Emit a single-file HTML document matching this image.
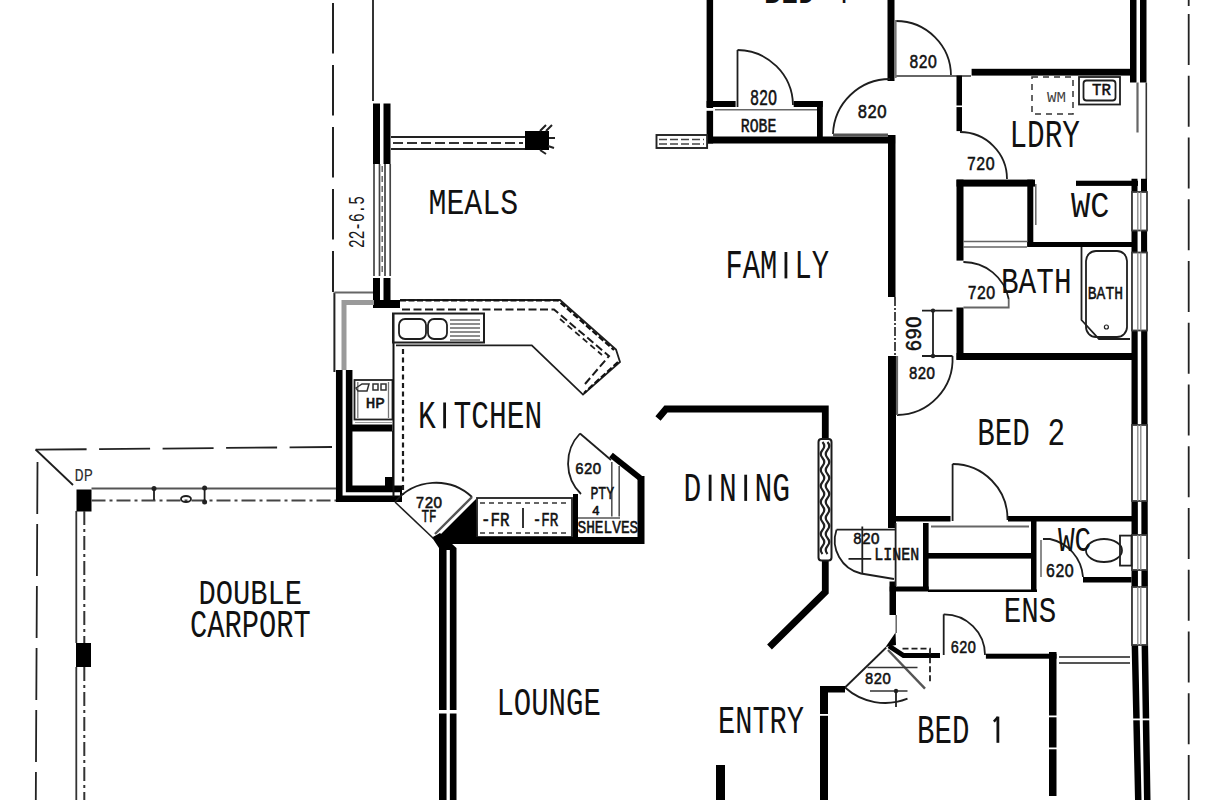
<!DOCTYPE html>
<html><head><meta charset="utf-8"><style>
html,body{margin:0;padding:0;background:#fff;width:1219px;height:800px;overflow:hidden;}
svg{display:block;position:absolute;left:0;top:0;}
text{font-family:"Liberation Mono",monospace;white-space:pre;}
</style></head><body>
<svg width="1219" height="800" viewBox="0 0 1219 800">
<rect x="0" y="0" width="1219" height="800" fill="#fff"/>

<!-- ============ LEFT / MEALS ============ -->
<!-- dashed boundary x=332.5 -->
<path stroke="#222" fill="none" d="M333,3 V292" stroke-dasharray="50.5 11.5" stroke-width="2"/>
<!-- thin line from top to meals wall -->
<path stroke="#1e1e1e" stroke-width="1.8" fill="none" d="M373,0 V101"/>
<!-- meals wall top black -->
<rect fill="#000" x="373" y="103.5" width="7" height="60.5"/>
<rect fill="#000" x="383.5" y="103.5" width="7" height="60.5"/>
<!-- window lines -->
<path d="M374,164 V276 M379.5,164 V276 M385,164 V276 M390.2,164 V276" stroke="#444" stroke-width="1.7" fill="none"/><path d="M382.2,166 V274" stroke="#666" stroke-width="1.5" stroke-dasharray="6 4" fill="none"/>
<!-- meals wall bottom black + corner -->
<rect fill="#000" x="373" y="278" width="7" height="30"/>
<rect fill="#000" x="383.5" y="278" width="7" height="30"/>
<rect fill="#000" x="373" y="300" width="27" height="8"/>
<!-- meals window stub -->
<path d="M391,137 H525 M391,149 H525" stroke="#222" stroke-width="1.8" fill="none"/>
<path d="M393,143 H523" stroke="#333" stroke-width="2.2" stroke-dasharray="10 4" fill="none"/>
<rect fill="#000" x="525" y="131" width="24" height="19"/><path d="M540,131 l6,-6 M546,131 l6,-6 M540,150 l6,4 M548,146 l6,2 M549,138 l6,0" stroke="#222" stroke-width="2"/>
<!-- dimension 22-6.5 -->

<!-- kitchen left thin box -->
<path d="M334.4,292.5 V372" stroke="#222" stroke-width="2" fill="none"/>
<path d="M334.4,292.5 H373" stroke="#666" stroke-width="2" fill="none"/>
<path d="M344,372 V302.5 H374" stroke="#9a9a9a" stroke-width="5" fill="none"/>

<!-- kitchen outer wall (double) -->
<path d="M344.2,370 V493.8 H402" stroke="#000" stroke-width="16.5" fill="none" stroke-linejoin="miter"/>
<path d="M344.2,370 V493.8 H400" stroke="#fff" stroke-width="3.3" fill="none"/>
<path d="M439,548 L432,537.5 L440,533 L456.5,548 V800 H439 Z" fill="#000"/>
<path d="M448.2,550 V800" stroke="#fff" stroke-width="3.3"/>
<rect x="436" y="710" width="24" height="3.5" fill="#fff"/>
<path stroke="#1e1e1e" fill="none" d="M395,502 L433.5,538.5" stroke-width="1.6"/>

<!-- HP -->
<rect fill="#000" x="351.5" y="424.5" width="41" height="7"/>
<rect x="354.5" y="380" width="38" height="39.5" fill="none" stroke="#222" stroke-width="1.8"/>
<path d="M357.8,382 V418 M388.5,382 V418" stroke="#777" stroke-width="1.3" fill="none"/>
<path d="M356,388 L362,384 H369 L367,391 H358 Z M373,384 h5 v6 h-5 z M381,384 h5 v6 h-5 z" stroke="#333" stroke-width="1.5" fill="none"/>
<path d="M355,422.5 H392" stroke="#999" stroke-width="1.2"/>
<path stroke="#1e1e1e" stroke-width="1.8" fill="none" d="M393,431 V485"/>
<rect fill="#000" x="385" y="477" width="8" height="9"/>

<!-- kitchen counter -->
<path stroke="#1e1e1e" stroke-width="1.8" fill="none" d="M400,300 H560 L616,349.5 L620,362 L583,394.6 L531.8,345.4 H396"/>
<path d="M400,300.5 H558 L614,350 M618,362 L584,393" stroke="#111" stroke-width="2.2" stroke-dasharray="6 2.5" fill="none"/>
<path d="M402,309.5 H554 L609,356 L585,384" stroke="#1a1a1a" stroke-width="2" stroke-dasharray="8 3.5" fill="none"/>
<path d="M560,319 L602,355" stroke="#222" stroke-width="1.8" stroke-dasharray="6 4" fill="none"/>
<path d="M393.5,313 V497" stroke="#111" stroke-width="2" fill="none"/>
<path d="M403,349 V495" stroke="#1a1a1a" stroke-width="2.2" stroke-dasharray="5 3.5" fill="none"/>
<!-- sink -->
<rect stroke="#1e1e1e" fill="none" x="393" y="313.5" width="91" height="29" stroke-width="2"/>
<rect stroke="#1e1e1e" stroke-width="1.8" fill="none" x="399" y="319" width="27" height="20" rx="6"/>
<rect stroke="#1e1e1e" stroke-width="1.8" fill="none" x="428" y="319" width="19" height="20" rx="6"/>
<path stroke="#1e1e1e" fill="none" d="M450,320 H480 M450,324 H480 M450,328 H480 M450,332 H480 M450,336 H480 M450,340 H480" stroke-width="1.1"/>


<!-- 720 TF door -->
<path stroke="#1e1e1e" stroke-width="1.8" fill="none" d="M395,502 A53,53 0 0,1 472,497"/>
<path fill="none" d="M435,534 L472,497" stroke-width="2.4" stroke="#555"/>
<polygon fill="#000" points="439,536 476,499 478,544 448,544"/>

<!-- FR counter -->
<rect stroke="#1e1e1e" stroke-width="1.8" fill="none" x="477" y="498" width="95" height="39"/>
<path stroke-width="1.5" fill="none" d="M480,503 H570 M480,533 H570" stroke-dasharray="5 4" stroke="#333"/>
<path stroke="#1e1e1e" stroke-width="1.8" fill="none" d="M523,508 V528"/>
<!-- kitchen bottom wall -->
<rect fill="#000" x="452" y="537" width="192" height="7"/>
<rect fill="#000" x="573" y="494" width="5" height="45"/>
<rect fill="#000" x="637.5" y="476" width="7" height="68"/>
<path d="M611,455 L640,478" stroke="#000" stroke-width="6"/>
<!-- pantry door -->
<path stroke="#1e1e1e" stroke-width="1.8" fill="none" d="M580,433.5 A43,43 0 0,0 581,494"/>
<path stroke="#1e1e1e" stroke-width="1.8" fill="none" d="M580,433.5 L611,460"/>
<path d="M611.8,462 V516.5 M619.2,466 V516.5 M578,518 H620" stroke="#555" stroke-width="1.6" fill="none"/>

<!-- ============ CARPORT ============ -->
<path stroke="#222" fill="none" d="M35.6,449.7 L332,447" stroke-dasharray="51 12.5" stroke-width="1.8"/>
<path stroke="#1e1e1e" stroke-width="1.8" fill="none" d="M35.6,449.5 L73,485"/>
<path stroke="#222" fill="none" d="M37.5,462 L35.8,800" stroke-dasharray="52 10" stroke-width="1.8"/>
<rect fill="#000" x="76.5" y="489.5" width="15" height="22"/>
<rect fill="#000" x="76" y="643" width="15" height="24"/>
<path d="M91.5,488.5 H336" stroke="#555" stroke-width="1.8"/>
<path d="M91.5,500.5 H336" stroke="#444" stroke-width="1.8" stroke-dasharray="14 4 3 4"/>
<path d="M76.3,511 V643 M76.3,667 V800" stroke="#333" stroke-width="1.8"/>
<path d="M84.3,511 V643 M84.3,667 V800" stroke="#333" stroke-width="2" stroke-dasharray="14 4 3 4"/>
<circle cx="154" cy="488.5" r="2.5" fill="#222"/>
<path stroke="#1e1e1e" stroke-width="1.8" fill="none" d="M154,488 V500"/>
<ellipse stroke="#1e1e1e" stroke-width="1.8" fill="none" cx="186" cy="499" rx="5" ry="3"/>
<circle cx="204.6" cy="488" r="2.5" fill="#222"/>
<circle cx="204.6" cy="502" r="2.5" fill="#222"/>
<path stroke="#1e1e1e" stroke-width="1.8" fill="none" d="M204.6,488 V502"/>

<rect fill="#000" x="716" y="765" width="9" height="35"/>

<!-- ============ DINING ============ -->
<path d="M658,418.5 L666,409 H825.3 V592 L769.5,647" stroke="#000" stroke-width="6.8" fill="none"/>
<rect x="818.5" y="439" width="13" height="121.5" rx="3" fill="#fff" stroke="#1a1a1a" stroke-width="2"/>
<path d="M822.5,442 q3.5,4 0,8 q-3.5,4 0,8 q3.5,4 0,8 q-3.5,4 0,8 q3.5,4 0,8 q-3.5,4 0,8 q3.5,4 0,8 q-3.5,4 0,8 q3.5,4 0,8 q-3.5,4 0,8 q3.5,4 0,8 q-3.5,4 0,8 q3.5,4 0,8 q-3.5,4 0,8" stroke="#222" stroke-width="2.2" fill="none"/>
<path d="M827.5,442 q3.5,4 0,8 q-3.5,4 0,8 q3.5,4 0,8 q-3.5,4 0,8 q3.5,4 0,8 q-3.5,4 0,8 q3.5,4 0,8 q-3.5,4 0,8 q3.5,4 0,8 q-3.5,4 0,8 q3.5,4 0,8 q-3.5,4 0,8 q3.5,4 0,8 q-3.5,4 0,8" stroke="#222" stroke-width="2.2" fill="none"/>
<!-- ============ FAMILY / BED 4 ============ -->
<rect fill="#000" x="706.6" y="0" width="6.5" height="143.5"/>
<rect fill="#000" x="706.6" y="101" width="29" height="6"/>
<rect fill="#000" x="793.7" y="101" width="29" height="6"/>
<rect fill="#000" x="817" y="101" width="5.8" height="42"/>
<rect fill="#000" x="706.6" y="136.5" width="188.5" height="7"/>
<path stroke="#666" stroke-width="1.5" fill="none" d="M713,109.7 H817"/><rect x="705" y="108" width="10" height="2.8" fill="#fff"/>
<path stroke="#1e1e1e" stroke-width="1.8" fill="none" d="M737.5,50 V107"/>
<path stroke="#1e1e1e" stroke-width="1.8" fill="none" d="M737.5,50 A56,56 0 0,1 793,105"/>
<rect x="656.5" y="135" width="50.6" height="13" fill="#fff" stroke="#222" stroke-width="1.9"/>
<path d="M659,139.5 H704 M659,144 H704" stroke="#444" stroke-width="1.6" stroke-dasharray="8 3" fill="none"/>
<rect fill="#000" x="887.5" y="0" width="7" height="81"/>
<!-- hall door -->
<path stroke="#1e1e1e" stroke-width="1.8" fill="none" d="M833,134 A57,57 0 0,1 890,79"/>
<path d="M833,135 H888" stroke="#555" stroke-width="3"/>
<!-- family right wall -->
<rect fill="#000" x="888" y="135" width="7.5" height="162"/>
<rect fill="#000" x="888" y="356" width="8" height="172"/>
<rect fill="#000" x="889.5" y="581.5" width="6.5" height="33.5"/>
<path stroke="#666" stroke-width="1.5" fill="none" d="M896.2,615 V633"/>

<!-- ============ LDRY ============ -->
<path stroke="#1e1e1e" stroke-width="1.8" fill="none" d="M896,21 A55,55 0 0,1 951,76"/>
<path d="M896,76 H971" stroke="#666" stroke-width="2"/><path d="M895.3,20 V78" stroke="#777" stroke-width="2.6"/>
<rect fill="#000" x="971.6" y="68.8" width="160" height="6.8"/>
<rect fill="#000" x="956.5" y="75.6" width="5.5" height="55.5"/><rect x="955" y="105.5" width="9" height="1.6" fill="#fff"/>
<path stroke="#1e1e1e" stroke-width="1.8" fill="none" d="M960,132 A47,47 0 0,1 1007,179"/>
<rect x="1032" y="77" width="41" height="37" fill="none" stroke="#333" stroke-width="1.5" stroke-dasharray="6 5"/>
<rect stroke="#1e1e1e" stroke-width="1.8" fill="none" x="1079" y="77" width="41" height="27.5"/>
<rect stroke="#1e1e1e" stroke-width="1.8" fill="none" x="1083.5" y="80.5" width="32" height="20" rx="3"/>

<!-- right exterior wall -->
<rect fill="#000" x="1130" y="0" width="6.5" height="82.5"/>
<rect fill="#000" x="1140" y="0" width="6.5" height="82.5"/>
<path d="M1146.3,82.5 V179" stroke="#333" stroke-width="1.6"/>
<path stroke="#666" fill="none" d="M1137.5,82.5 V132.5" stroke-width="2.2"/>
<polygon fill="#000" points="1131.5,178.7 1137.5,178.7 1138,640 1141.5,800 1135,800 1131.5,640"/>
<polygon fill="#000" points="1141,178.7 1147,178.7 1148,640 1150.5,800 1144,800 1141.5,640"/>
<!-- windows -->
<g fill="#fff" stroke="#3a3a3a" stroke-width="1.8">
<rect x="1132" y="192" width="15" height="38.5"/>
<rect x="1132" y="252.5" width="15" height="78"/>
<rect x="1132" y="425" width="15" height="76"/>
<rect x="1132" y="535" width="15" height="35"/>
<rect x="1132" y="587" width="15" height="58"/>
</g>
<path d="M1137.8,192 V230.5 M1137.8,252.5 V330.5 M1137.8,425 V501 M1137.8,535 V570 M1137.8,587 V645 M1140.8,192 V230.5 M1140.8,252.5 V330.5 M1140.8,425 V501 M1140.8,535 V570 M1140.8,587 V645" stroke="#888" stroke-width="1.3"/>
<!-- right dashed line -->
<path stroke="#222" fill="none" d="M1188.7,0 V6 M1188.7,14 V800" stroke-dasharray="51 10.75" stroke-width="1.8"/>

<!-- ============ BATH BLOCK ============ -->
<rect fill="#000" x="956.5" y="179.6" width="78.5" height="7"/>
<rect fill="#000" x="956.5" y="179.6" width="7" height="81"/>
<rect fill="#000" x="1027.3" y="179.6" width="6" height="67"/>
<path stroke="#666" stroke-width="1.5" fill="none" d="M963,241.5 H1027 M963,247 H1027"/>
<path stroke="#666" stroke-width="1.5" fill="none" d="M1035.8,184 V225"/>
<rect fill="#000" x="1076" y="180.7" width="62" height="5.2"/>
<rect fill="#000" x="1027.3" y="242" width="105" height="5"/>
<!-- bath -->
<rect fill="#000" x="956.5" y="307.5" width="7" height="52.3"/>
<rect fill="#000" x="956.5" y="353" width="176" height="7"/>
<path stroke="#1e1e1e" stroke-width="1.8" fill="none" d="M963.4,262 A46,46 0 0,1 1008.7,299"/>
<path stroke="#666" fill="none" d="M963.4,307.5 H1008.7 V299" stroke-width="1.8"/>
<path stroke="#1e1e1e" stroke-width="1.8" fill="none" d="M1081.5,247 V320 L1099,339 H1130"/>
<rect stroke="#1e1e1e" stroke-width="1.8" fill="none" x="1086" y="251" width="41" height="86" rx="10"/>
<circle cx="1106.4" cy="327" r="2" fill="none" stroke="#222" stroke-width="1.2"/>

<!-- ============ BED 2 ============ -->
<path stroke="#1e1e1e" stroke-width="1.8" fill="none" d="M922,310.6 H952.5 M922,356 H952.5 M933,310.6 V356"/>
<circle cx="933" cy="310.6" r="2.2" fill="#222"/>
<circle cx="933" cy="356" r="2.2" fill="#222"/>
<path d="M895,297 V356" stroke="#333" stroke-width="1.8" stroke-dasharray="9 2 2 2" fill="none"/>
<path stroke="#1e1e1e" stroke-width="1.8" fill="none" d="M952.5,356 A56,56 0 0,1 897,415"/>
<path stroke="#666" fill="none" d="M897,356 V415" stroke-width="2.2"/>
<!-- bed 2 bottom wall -->
<rect fill="#000" x="888" y="516" width="62.5" height="5.5"/>
<rect fill="#000" x="1008" y="516" width="124" height="5.5"/>
<path stroke="#1e1e1e" stroke-width="1.8" fill="none" d="M952.6,464 V521"/>
<path stroke="#1e1e1e" stroke-width="1.8" fill="none" d="M952.6,464 A55,55 0 0,1 1007.5,520"/>

<!-- linen -->
<path stroke="#1e1e1e" stroke-width="1.8" fill="none" d="M895.6,523 V586 M836.5,529.7 H895.6"/>
<path stroke="#1e1e1e" stroke-width="1.8" fill="none" d="M836.5,529.7 A34,34 0 0,0 861,573.5 L894,579"/>
<path stroke="#1e1e1e" stroke-width="1.8" fill="none" d="M848.5,558.8 H871.3 M862.3,526.5 V573"/>
<rect fill="#000" x="923" y="523" width="5.6" height="68"/>
<rect fill="#000" x="928" y="553" width="106" height="5.6"/>
<rect fill="#000" x="889.7" y="586.5" width="39" height="5"/><rect fill="#000" x="928" y="589.5" width="109" height="2.5"/>
<rect fill="#000" x="1031" y="520" width="5.5" height="71"/>
<path stroke="#666" fill="none" d="M931,526.5 H1029" stroke-width="2"/>

<!-- WC ens -->

<rect fill="#000" x="1083" y="577" width="48.5" height="5.5"/>
<ellipse stroke="#1e1e1e" stroke-width="1.8" fill="none" cx="1104" cy="550.5" rx="18" ry="11.5"/>
<rect stroke="#1e1e1e" stroke-width="1.8" fill="none" x="1120" y="535.6" width="11.5" height="30"/>
<path stroke="#1e1e1e" stroke-width="1.8" fill="none" d="M1043,539 H1050 A42,42 0 0,1 1083,577"/>
<path stroke="#666" stroke-width="1.5" fill="none" d="M1041,540 V577"/>


<!-- ens / bed1 -->
<path d="M885.6,647 L895.5,632.5 L896,645 Z" fill="#000"/><path d="M889,646 L903.5,655.5 H940" stroke="#000" stroke-width="5" fill="none"/>
<rect fill="#000" x="985.9" y="653.7" width="70.6" height="5"/>
<rect fill="#000" x="1049" y="652" width="7.5" height="144"/>
<path d="M1059,657 H1130 M1059,663 H1130" stroke="#555" stroke-width="2" fill="none"/>
<path stroke="#1e1e1e" stroke-width="1.8" fill="none" d="M943.7,614.3 V655"/>
<path stroke="#1e1e1e" stroke-width="1.8" fill="none" d="M943.7,614.3 A41,41 0 0,1 985,655"/>
<!-- entry door -->
<path stroke="#1e1e1e" stroke-width="1.8" fill="none" d="M845,687.5 L886.2,647.5"/><path d="M888,650 L925,688.7" stroke="#555" stroke-width="2.4" fill="none"/>
<path stroke="#1e1e1e" stroke-width="1.8" fill="none" d="M845,687.5 A60,60 0 0,0 907.5,698.7"/>
<path stroke="#1e1e1e" stroke-width="1.8" fill="none" d="M902.5,648.7 H930 V682.5" stroke-dasharray="6 3"/>
<path stroke-width="1.5" fill="none" d="M867.5,667.5 H917.5 M870,691 H907.5" stroke="#333"/>
<circle cx="896" cy="691" r="2.2" fill="#222"/>
<path stroke="#1e1e1e" stroke-width="1.8" fill="none" d="M896,689 V707"/>
<rect fill="#000" x="820" y="686" width="8" height="114"/>
<rect fill="#000" x="820" y="686" width="25" height="6.5"/>
<rect x="1046" y="715.5" width="14" height="1.8" fill="#fff"/><rect x="1046" y="747.5" width="14" height="1.8" fill="#fff"/><rect x="1128" y="718.5" width="26" height="1.8" fill="#fff"/>
<rect x="817" y="714" width="15" height="1.8" fill="#fff"/>
<text x="428.52" y="213.80" font-family="Liberation Mono" font-weight="normal" font-size="36.89" textLength="89.55" lengthAdjust="spacingAndGlyphs" fill="#111">MEALS</text>
<rect x="443.21" y="402.50" width="2.8" height="25.80" fill="#111"/><text x="417.96" y="428.30" font-family="Liberation Mono" font-weight="normal" font-size="39.17" textLength="124.40" lengthAdjust="spacingAndGlyphs" fill="#111">K TCHEN</text>
<rect x="784.53" y="252.00" width="2.8" height="26.40" fill="#111"/><text x="725.47" y="278.40" font-family="Liberation Mono" font-weight="normal" font-size="40.08" textLength="103.65" lengthAdjust="spacingAndGlyphs" fill="#111">FAM LY</text>
<rect x="708.72" y="474.70" width="2.8" height="26.20" fill="#111"/><rect x="744.28" y="474.70" width="2.8" height="26.20" fill="#111"/><text x="683.46" y="500.90" font-family="Liberation Mono" font-weight="normal" font-size="39.78" textLength="106.67" lengthAdjust="spacingAndGlyphs" fill="#111">D N NG</text>
<text x="496.45" y="715.40" font-family="Liberation Mono" font-weight="normal" font-size="38.11" textLength="104.37" lengthAdjust="spacingAndGlyphs" fill="#111">LOUNGE</text>
<text x="718.03" y="733.20" font-family="Liberation Mono" font-weight="normal" font-size="38.56" textLength="85.98" lengthAdjust="spacingAndGlyphs" fill="#111">ENTRY</text>
<text x="977.18" y="444.70" font-family="Liberation Mono" font-weight="normal" font-size="39.62" textLength="87.89" lengthAdjust="spacingAndGlyphs" fill="#111">BED 2</text>
<rect x="996.48" y="716.60" width="2.8" height="26.20" fill="#111"/><path d="M993.88,721.60 L997.88,717.10" stroke="#111" stroke-width="2.4"/><text x="917.10" y="742.80" font-family="Liberation Mono" font-weight="normal" font-size="39.78" textLength="87.31" lengthAdjust="spacingAndGlyphs" fill="#111">BED  </text>
<text x="1000.97" y="293.20" font-family="Liberation Mono" font-weight="normal" font-size="36.89" textLength="70.57" lengthAdjust="spacingAndGlyphs" fill="#111">BATH</text>
<text x="1009.50" y="146.80" font-family="Liberation Mono" font-weight="normal" font-size="38.71" textLength="70.43" lengthAdjust="spacingAndGlyphs" fill="#111">LDRY</text>
<text x="1003.79" y="622.30" font-family="Liberation Mono" font-weight="normal" font-size="37.65" textLength="52.55" lengthAdjust="spacingAndGlyphs" fill="#111">ENS</text>
<text x="198.52" y="604.00" font-family="Liberation Mono" font-weight="normal" font-size="35.98" textLength="103.58" lengthAdjust="spacingAndGlyphs" fill="#111">DOUBLE</text>
<text x="190.11" y="637.40" font-family="Liberation Mono" font-weight="normal" font-size="38.86" textLength="120.77" lengthAdjust="spacingAndGlyphs" fill="#111">CARPORT</text>
<text x="1071.00" y="217.00" font-family="Liberation Mono" font-weight="normal" font-size="36.44" textLength="38.36" lengthAdjust="spacingAndGlyphs" fill="#111">WC</text>
<text x="1058.00" y="550.60" font-family="Liberation Mono" font-weight="normal" font-size="34.31" textLength="33.17" lengthAdjust="spacingAndGlyphs" fill="#111">WC</text>
<text x="763.74" y="3.00" font-family="Liberation Mono" font-weight="normal" font-size="37.95" textLength="85.71" lengthAdjust="spacingAndGlyphs" fill="#111">BED 4</text>
<text x="750.02" y="105.00" font-family="Liberation Mono" font-weight="normal" font-size="21.25" textLength="27.16" lengthAdjust="spacingAndGlyphs" fill="#111" stroke="#111" stroke-width="0.55">82O</text>
<text x="740.83" y="131.60" font-family="Liberation Mono" font-weight="normal" font-size="19.51" textLength="35.54" lengthAdjust="spacingAndGlyphs" fill="#111" stroke="#111" stroke-width="0.55">ROBE</text>
<text x="857.54" y="118.30" font-family="Liberation Mono" font-weight="normal" font-size="20.19" textLength="29.36" lengthAdjust="spacingAndGlyphs" fill="#111" stroke="#111" stroke-width="0.55">82O</text>
<text x="909.30" y="67.60" font-family="Liberation Mono" font-weight="normal" font-size="20.50" textLength="27.75" lengthAdjust="spacingAndGlyphs" fill="#111" stroke="#111" stroke-width="0.55">82O</text>
<text x="966.70" y="170.30" font-family="Liberation Mono" font-weight="normal" font-size="21.10" textLength="28.06" lengthAdjust="spacingAndGlyphs" fill="#111" stroke="#111" stroke-width="0.55">72O</text>
<text x="967.40" y="298.60" font-family="Liberation Mono" font-weight="normal" font-size="20.34" textLength="27.95" lengthAdjust="spacingAndGlyphs" fill="#111" stroke="#111" stroke-width="0.55">72O</text>
<text x="908.64" y="378.70" font-family="Liberation Mono" font-weight="normal" font-size="18.67" textLength="26.57" lengthAdjust="spacingAndGlyphs" fill="#111" stroke="#111" stroke-width="0.55">82O</text>
<text x="574.92" y="474.00" font-family="Liberation Mono" font-weight="normal" font-size="16.70" textLength="26.49" lengthAdjust="spacingAndGlyphs" fill="#111" stroke="#111" stroke-width="0.55">62O</text>
<text x="853.04" y="543.70" font-family="Liberation Mono" font-weight="normal" font-size="16.70" textLength="26.67" lengthAdjust="spacingAndGlyphs" fill="#111" stroke="#111" stroke-width="0.55">82O</text>
<text x="874.27" y="559.50" font-family="Liberation Mono" font-weight="normal" font-size="17.76" textLength="44.92" lengthAdjust="spacingAndGlyphs" fill="#111" stroke="#111" stroke-width="0.55">LINEN</text>
<text x="950.45" y="652.50" font-family="Liberation Mono" font-weight="normal" font-size="18.98" textLength="25.63" lengthAdjust="spacingAndGlyphs" fill="#111" stroke="#111" stroke-width="0.55">62O</text>
<text x="864.65" y="684.40" font-family="Liberation Mono" font-weight="normal" font-size="17.31" textLength="26.24" lengthAdjust="spacingAndGlyphs" fill="#111" stroke="#111" stroke-width="0.55">82O</text>
<text x="1045.85" y="577.00" font-family="Liberation Mono" font-weight="normal" font-size="19.74" textLength="28.11" lengthAdjust="spacingAndGlyphs" fill="#111" stroke="#111" stroke-width="0.55">62O</text>
<text x="590.45" y="499.00" font-family="Liberation Mono" font-weight="normal" font-size="17.46" textLength="23.78" lengthAdjust="spacingAndGlyphs" fill="#111" stroke="#111" stroke-width="0.55">PTY</text>
<text x="577.44" y="532.50" font-family="Liberation Mono" font-weight="normal" font-size="17.46" textLength="60.87" lengthAdjust="spacingAndGlyphs" fill="#111" stroke="#111" stroke-width="0.55">SHELVES</text>
<text x="365.74" y="408.00" font-family="Liberation Mono" font-weight="normal" font-size="15.18" textLength="19.12" lengthAdjust="spacingAndGlyphs" fill="#111" stroke="#111" stroke-width="0.55">HP</text>
<text x="415.45" y="507.75" font-family="Liberation Mono" font-weight="normal" font-size="17.08" textLength="26.87" lengthAdjust="spacingAndGlyphs" fill="#111" stroke="#111" stroke-width="0.55">72O</text>
<text x="421.53" y="522.40" font-family="Liberation Mono" font-weight="normal" font-size="18.83" textLength="15.10" lengthAdjust="spacingAndGlyphs" fill="#111" stroke="#111" stroke-width="0.55">TF</text>
<text x="480.92" y="526.00" font-family="Liberation Mono" font-weight="normal" font-size="19.74" textLength="28.48" lengthAdjust="spacingAndGlyphs" fill="#111" stroke="#111" stroke-width="0.55">-FR</text>
<text x="532.67" y="526.00" font-family="Liberation Mono" font-weight="normal" font-size="19.74" textLength="25.69" lengthAdjust="spacingAndGlyphs" fill="#111" stroke="#111" stroke-width="0.55">-FR</text>
<text x="1092.02" y="95.00" font-family="Liberation Mono" font-weight="normal" font-size="16.70" textLength="18.88" lengthAdjust="spacingAndGlyphs" fill="#111" stroke="#111" stroke-width="0.55">TR</text>
<text x="1087.84" y="299.30" font-family="Liberation Mono" font-weight="normal" font-size="19.28" textLength="35.12" lengthAdjust="spacingAndGlyphs" fill="#111" stroke="#111" stroke-width="0.55">BATH</text>
<text x="591.95" y="514.50" font-family="Liberation Mono" font-weight="normal" font-size="11.99" textLength="7.70" lengthAdjust="spacingAndGlyphs" fill="#111" stroke="#111" stroke-width="0.55">4</text>
<text x="1047.00" y="102.00" font-family="Liberation Mono" font-weight="normal" font-size="15.18" textLength="19.01" lengthAdjust="spacingAndGlyphs" fill="#444">WM</text>
<text x="74.58" y="480.90" font-family="Liberation Mono" font-weight="normal" font-size="17.46" textLength="18.44" lengthAdjust="spacingAndGlyphs" fill="#333">DP</text>
<text transform="translate(921.40,351.44) rotate(-90)" font-family="Liberation Mono" font-weight="normal" font-size="22.24" textLength="35.25" lengthAdjust="spacingAndGlyphs" fill="#111" stroke="#111" stroke-width="0.55">69O</text>
<text transform="translate(364.00,248.01) rotate(-90)" font-family="Liberation Mono" font-weight="normal" font-size="21.25" textLength="51.93" lengthAdjust="spacingAndGlyphs" fill="#1a1a1a">22-6.5</text>
</svg>
</body></html>
